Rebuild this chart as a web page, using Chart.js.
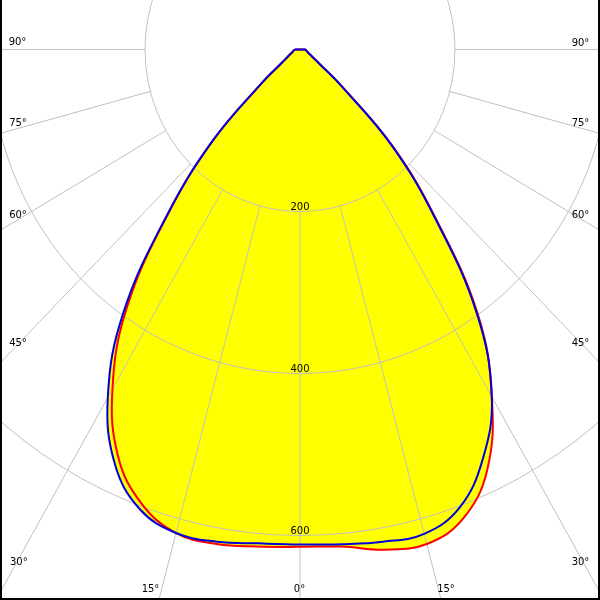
<!DOCTYPE html>
<html>
<head>
<meta charset="utf-8">
<script src="https://cdn.jsdelivr.net/npm/chart.js@4.4.1/dist/chart.umd.min.js"></script>
<style>
  html, body { margin: 0; padding: 0; background: #fff; }
  #wrap { width: 600px; height: 600px; }
</style>
</head>
<body>
<div id="wrap"><canvas id="polar" width="600" height="600"></canvas></div>
<script>
// gamma angles (deg from nadir), same for every half-plane
const angles = [0, 5, 10, 15, 20, 25, 30, 35, 40, 45, 50, 55, 60, 65, 70, 75, 80, 85, 90];

// luminous intensity (cd)
const c0Left   = [614, 616, 620, 618, 597, 555, 484, 390, 265, 158, 64, 29, 19, 14, 11, 9.5, 8.3, 7.4, 6.7];
const c0Right  = [614, 616, 627, 632, 616, 572, 495, 401, 273, 170, 70, 31, 19, 14, 11, 9.5, 8.3, 7.4, 6.7];
const c90Left  = [611, 612, 617, 618, 604, 565, 496, 398, 267, 160, 65, 29, 19, 14, 11, 9.5, 8.3, 7.4, 6.7];
const c90Right = [611, 613, 617, 619, 602, 558, 495, 398, 270, 167, 68, 30, 19, 14, 11, 9.5, 8.3, 7.4, 6.7];

// grid
const ringValues = [200, 400, 600];
const spokeAngles = [0, 15, 30, 45, 60, 75, 90];

// left half goes 90 -> 0, right half 0 -> 90, then close back at the top
function toPoints(left, right) {
  const pts = [];
  for (let i = angles.length - 1; i >= 0; i--) {
    const t = angles[i] * Math.PI / 180;
    pts.push({ x: -left[i] * Math.sin(t), y: -left[i] * Math.cos(t) });
  }
  for (let i = 1; i < angles.length; i++) {
    const t = angles[i] * Math.PI / 180;
    pts.push({ x: right[i] * Math.sin(t), y: -right[i] * Math.cos(t) });
  }
  pts.push({ ...pts[0] });
  return pts;
}

const gridColour = '#c0c0c0';
const labelFont = '10px "DejaVu Sans"';

// angle labels sit at the frame edges
const angleLabels = [
  ['90°', 17.5, 41.5], ['75°', 18, 122], ['60°', 18, 214.5], ['45°', 18, 342], ['30°', 18.8, 561],
  ['15°', 150.5, 588.7], ['0°', 299.5, 588.7], ['15°', 446, 588.7],
  ['90°', 580.5, 42], ['75°', 580.5, 122], ['60°', 580.5, 214.5], ['45°', 580.5, 342], ['30°', 580.5, 561]
];

const polarGrid = {
  id: 'polarGrid',
  beforeDatasetsDraw(chart) {
    const { ctx, chartArea, scales: { x, y } } = chart;

    // yellow area under the curves
    chart.getSortedVisibleDatasetMetas().forEach(meta => {
      const line = meta.dataset;
      line.updateControlPoints(chartArea, 'x');
      ctx.save();
      ctx.beginPath();
      line.path(ctx);
      ctx.closePath();
      ctx.fillStyle = '#ffff00';
      ctx.fill();
      ctx.restore();
    });

    const cx = x.getPixelForValue(0);
    const cy = y.getPixelForValue(0);

    ctx.save();
    ctx.strokeStyle = gridColour;
    ctx.lineWidth = 1;
    ringValues.forEach(r => {
      ctx.beginPath();
      ctx.ellipse(cx, cy, x.getPixelForValue(r) - cx, y.getPixelForValue(-r) - cy, 0, 0, Math.PI * 2);
      ctx.stroke();
    });
    spokeAngles.forEach(a => {
      const t = a * Math.PI / 180;
      const sides = a === 0 ? [1] : [-1, 1];
      sides.forEach(s => {
        ctx.beginPath();
        ctx.moveTo(x.getPixelForValue(s * ringValues[0] * Math.sin(t)), y.getPixelForValue(-ringValues[0] * Math.cos(t)));
        ctx.lineTo(x.getPixelForValue(s * 2000 * Math.sin(t)), y.getPixelForValue(-2000 * Math.cos(t)));
        ctx.stroke();
      });
    });

    ctx.fillStyle = '#000';
    ctx.font = labelFont;
    ctx.textAlign = 'center';
    ctx.textBaseline = 'alphabetic';
    ringValues.forEach(r => {
      ctx.fillText(String(r), cx, y.getPixelForValue(-r) - 2);
    });
    ctx.restore();
  },
  afterDatasetsDraw(chart) {
    const { ctx, width, height } = chart;
    ctx.save();
    ctx.fillStyle = '#000';
    ctx.font = labelFont;
    ctx.textAlign = 'center';
    ctx.textBaseline = 'alphabetic';
    angleLabels.forEach(([txt, lx, ly]) => ctx.fillText(txt, lx, ly + 3.6));

    // frame: left, right, bottom
    ctx.strokeStyle = '#000';
    ctx.lineWidth = 2;
    ctx.beginPath();
    ctx.moveTo(1, 0);
    ctx.lineTo(1, height - 1);
    ctx.lineTo(width - 1, height - 1);
    ctx.lineTo(width - 1, 0);
    ctx.stroke();
    ctx.restore();
  }
};

const ctx = document.getElementById('polar').getContext('2d');
new Chart(ctx, {
  type: 'scatter',
  data: {
    datasets: [
      {
        label: 'C90 / C270',
        data: toPoints(c90Left, c90Right),
        showLine: true,
        borderColor: '#0000dd',
        borderWidth: 2,
        pointRadius: 0,
        tension: 0.4,
        fill: false
      },
      {
        label: 'C0 / C180',
        data: toPoints(c0Left, c0Right),
        showLine: true,
        borderColor: '#ff0000',
        borderWidth: 2,
        pointRadius: 0,
        tension: 0.4,
        fill: false
      }
    ]
  },
  options: {
    responsive: false,
    animation: false,
    devicePixelRatio: 1,
    layout: { padding: 0 },
    plugins: {
      legend: { display: false },
      tooltip: { enabled: false }
    },
    scales: {
      x: { type: 'linear', min: -387.1, max: 387.1, display: false },
      y: { type: 'linear', min: -679.6, max: 61.1, display: false }
    }
  },
  plugins: [polarGrid]
});
</script>
</body>
</html>
